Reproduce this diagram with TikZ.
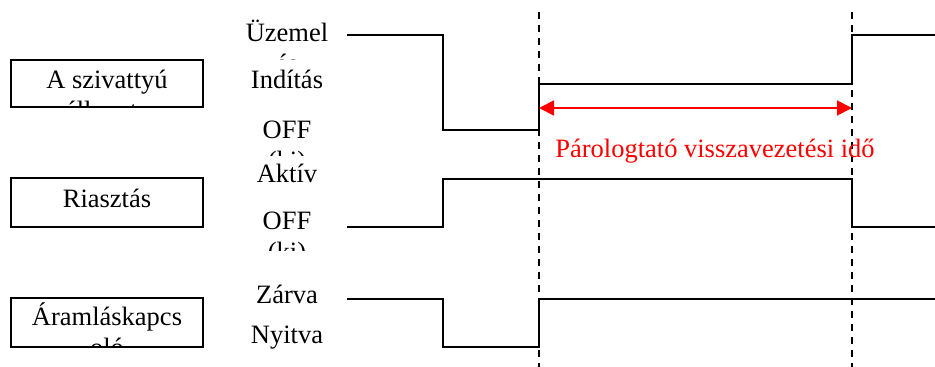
\documentclass[tikz,border=0pt]{standalone}
\usepackage{fontspec}
\setmainfont{Liberation Serif}
\usetikzlibrary{arrows.meta}
\definecolor{arrred}{RGB}{255,0,0}
\tikzset{
  lbl/.style={anchor=base,inner sep=0pt,font=\fontsize{26.5}{31}\selectfont},
  box/.style={draw,line width=1.7pt,minimum width=192pt,inner sep=0pt},
  sig/.style={line width=1.7pt,line join=miter},
  guide/.style={line width=2pt,dash pattern=on 7pt off 6pt},
  span/.style={draw=arrred,line width=1.8pt,{Triangle[length=15pt,width=15pt]}-{Triangle[length=15pt,width=15pt]}}
}
\begin{document}
\begin{tikzpicture}[x=1pt,y=-1pt]
\useasboundingbox (0,0) rectangle (935,367);
% boxes
\node[box,minimum height=47pt] (pump) at (107,83.5) {};
\node[box,minimum height=49pt] (alarm) at (107,202.5) {};
\node[box,minimum height=49pt] (flow) at (107,322.5) {};
\begin{scope}
\clip (pump.south west) rectangle (pump.north east);
\node[lbl] (pumpA) at (107,88) {A szivattyú};
\node[lbl] (pumpB) at (107,119) {állapota};
\end{scope}
\node[lbl] (alarmT) at (107,207) {Riasztás};
\begin{scope}
\clip (flow.south west) rectangle (flow.north east);
\node[lbl] (flowA) at (107,325) {Áramláskapcs};
\node[lbl] (flowB) at (107,356) {oló};
\end{scope}
% level labels
\begin{scope}
\clip (235,0) rectangle (340,59);
\node[lbl] (runA) at (287,41) {Üzemel};
\node[lbl] (runB) at (287,72) {és};
\end{scope}
\node[lbl] (start) at (287,88) {Indítás};
\begin{scope}
\clip (235,100) rectangle (340,155);
\node[lbl] (offA) at (287,138) {OFF};
\node[lbl] (offB) at (287,169) {(ki)};
\end{scope}
\node[lbl] (active) at (287,182) {Aktív};
\begin{scope}
\clip (235,190) rectangle (340,250);
\node[lbl] (off2A) at (287,229) {OFF};
\node[lbl] (off2B) at (287,260) {(ki)};
\end{scope}
\node[lbl] (closed) at (287,303) {Zárva};
\node[lbl] (open) at (287,343) {Nyitva};
% guides
\coordinate (g1t) at (539,12); \coordinate (g1b) at (539,367);
\coordinate (g2t) at (852,12); \coordinate (g2b) at (852,367);
\draw[guide] (g1t) -- (g1b);
\draw[guide] (g2t) -- (g2b);
% waveforms
\draw[sig] (347,35) -- (443,35) -- (443,130) -- (539,130) -- (539,84) -- (852,84) -- (852,35) -- (935,35);
\draw[sig] (347,227) -- (443,227) -- (443,179) -- (852,179) -- (852,227) -- (935,227);
\draw[sig] (347,299) -- (443,299) -- (443,347) -- (539,347) -- (539,299) -- (935,299);
% span arrow
\coordinate (s1) at (539,108); \coordinate (s2) at (852,108);
\draw[span] (s1) -- (s2);
\node[lbl,text=arrred] (spanT) at (715,157) {Párologtató visszavezetési idő};
\end{tikzpicture}
\end{document}
